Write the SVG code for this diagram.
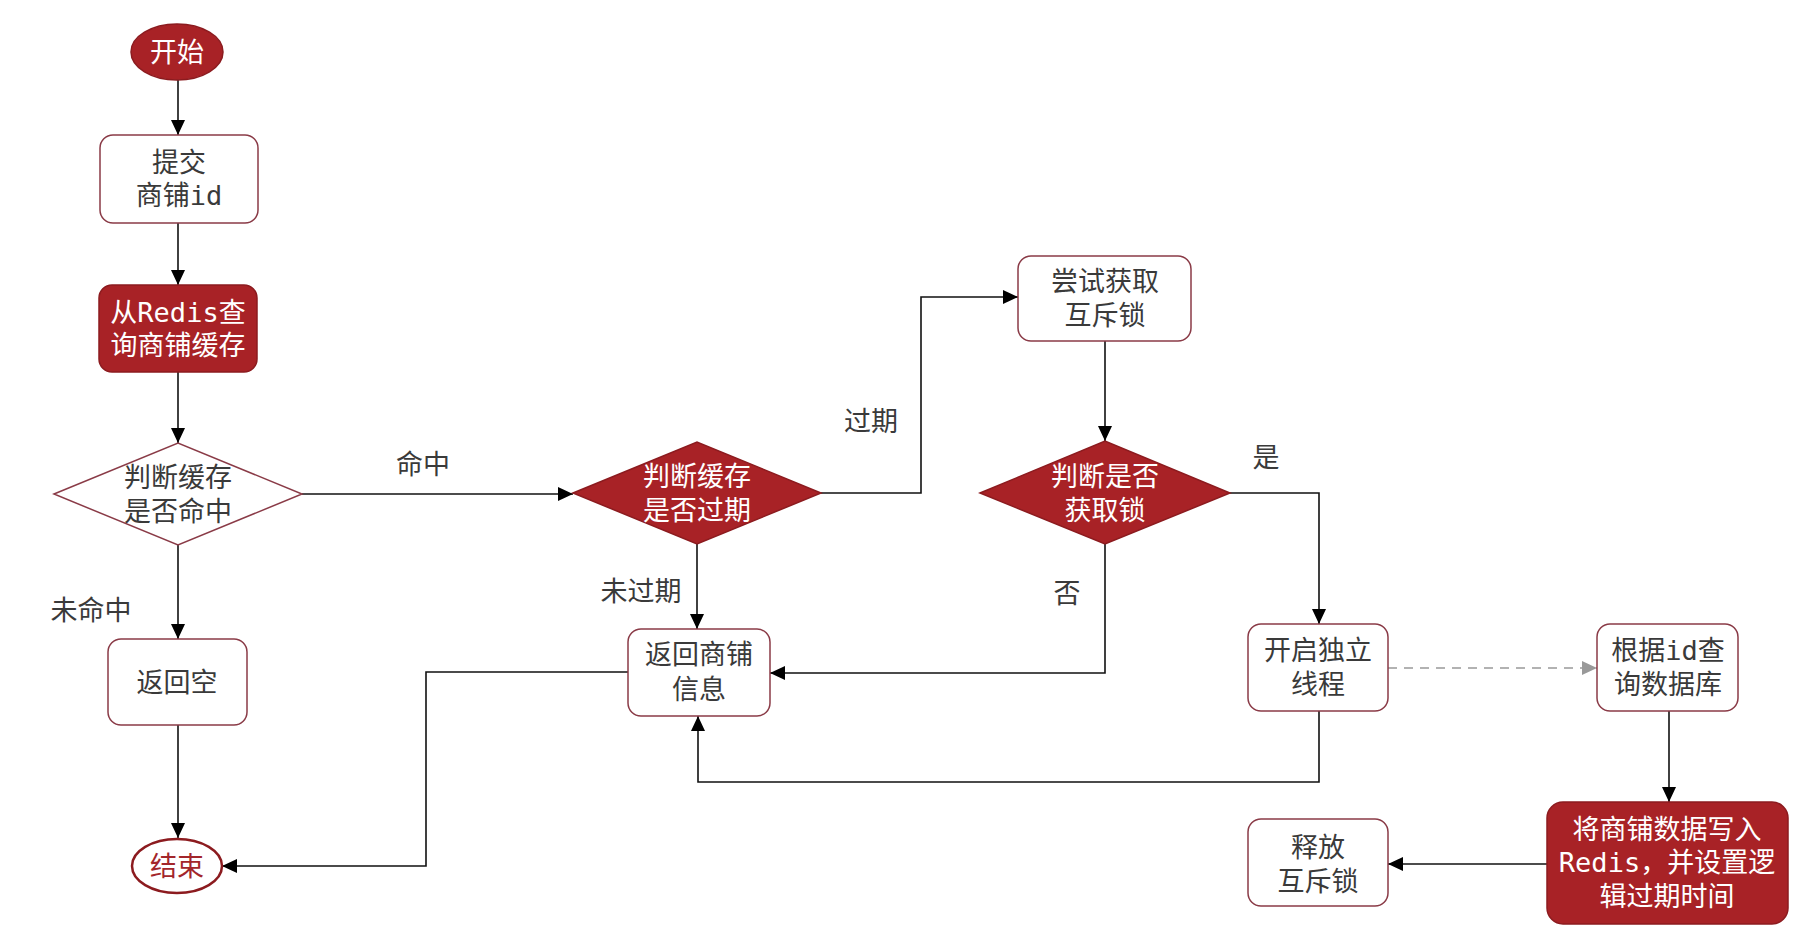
<svg xmlns="http://www.w3.org/2000/svg" width="1819" height="933" viewBox="0 0 1819 933">
<style>
.t{font-family:"DejaVu Sans Mono","Noto Sans CJK SC",monospace;font-size:27px;text-anchor:middle;dominant-baseline:central;fill:#3a3a3a}
.w{fill:#ffffff}
.r{fill:#a3262b}
.box{fill:#ffffff;stroke:#8a3b47;stroke-width:1.5}
.red{fill:#a82226;stroke:#8c1b1f;stroke-width:1.5}
.ln{fill:none;stroke:#111;stroke-width:1.6}
.dash{fill:none;stroke:#999;stroke-width:1.6;stroke-dasharray:9 7}
</style>
<defs>
<marker id="arr" markerUnits="userSpaceOnUse" markerWidth="16" markerHeight="14" refX="15" refY="7" orient="auto">
<path d="M0,0 L15,7 L0,14 Z" fill="#000"/>
</marker>
<marker id="arrg" markerUnits="userSpaceOnUse" markerWidth="16" markerHeight="14" refX="15" refY="7" orient="auto">
<path d="M0,0 L15,7 L0,14 Z" fill="#999"/>
</marker>
</defs>
<rect width="1819" height="933" fill="#ffffff"/>
<g id="connectors">
<path class="ln" marker-end="url(#arr)" d="M178,80 L178,135"/>
<path class="ln" marker-end="url(#arr)" d="M178,223 L178,285"/>
<path class="ln" marker-end="url(#arr)" d="M178,372 L178,443"/>
<path class="ln" marker-end="url(#arr)" d="M178,545 L178,639"/>
<path class="ln" marker-end="url(#arr)" d="M178,725 L178,838"/>
<path class="ln" marker-end="url(#arr)" d="M302,494 L573,494"/>
<path class="ln" marker-end="url(#arr)" d="M821,493 L921,493 L921,297 L1018,297"/>
<path class="ln" marker-end="url(#arr)" d="M697,544 L697,629"/>
<path class="ln" marker-end="url(#arr)" d="M1105,341 L1105,441"/>
<path class="ln" marker-end="url(#arr)" d="M1105,544 L1105,673 L770,673"/>
<path class="ln" marker-end="url(#arr)" d="M1230,493 L1319,493 L1319,624"/>
<path class="dash" marker-end="url(#arrg)" d="M1388,668 L1597,668"/>
<path class="ln" marker-end="url(#arr)" d="M1319,711 L1319,782 L698,782 L698,716"/>
<path class="ln" marker-end="url(#arr)" d="M1669,711 L1669,802"/>
<path class="ln" marker-end="url(#arr)" d="M1547,864 L1388,864"/>
<path class="ln" marker-end="url(#arr)" d="M628,672 L426,672 L426,866 L222,866"/>
<text class="t" x="423" y="464">命中</text>
<text class="t" x="91" y="610">未命中</text>
<text class="t" x="871" y="421">过期</text>
<text class="t" x="641" y="591">未过期</text>
<text class="t" x="1067" y="593">否</text>
<text class="t" x="1266" y="457">是</text>
</g>
<g id="start">
<ellipse cx="177" cy="52" rx="46" ry="28" class="red"/>
<text class="t w" x="177" y="52">开始</text>
</g>
<g id="submit">
<rect x="100" y="135" width="158" height="88" rx="13" class="box"/>
<text class="t" x="179" y="162">提交</text>
<text class="t" x="179" y="195">商铺id</text>
</g>
<g id="query-redis">
<rect x="99" y="285" width="158" height="87" rx="13" class="red"/>
<text class="t w" x="178" y="312">从Redis查</text>
<text class="t w" x="178" y="345">询商铺缓存</text>
</g>
<g id="hit-check">
<polygon points="54,494 178,443 302,494 178,545" class="box"/>
<text class="t" x="178" y="477">判断缓存</text>
<text class="t" x="178" y="511">是否命中</text>
</g>
<g id="return-null">
<rect x="108" y="639" width="139" height="86" rx="13" class="box"/>
<text class="t" x="177" y="682">返回空</text>
</g>
<g id="end">
<ellipse cx="177" cy="866" rx="45" ry="27" fill="#ffffff" stroke="#8c1b1f" stroke-width="2.5"/>
<text class="t r" x="177" y="866">结束</text>
</g>
<g id="expire-check">
<polygon points="573,493 697,442 821,493 697,544" class="red"/>
<text class="t w" x="697" y="476">判断缓存</text>
<text class="t w" x="697" y="510">是否过期</text>
</g>
<g id="return-shop">
<rect x="628" y="629" width="142" height="87" rx="13" class="box"/>
<text class="t" x="699" y="654">返回商铺</text>
<text class="t" x="699" y="689">信息</text>
</g>
<g id="try-lock">
<rect x="1018" y="256" width="173" height="85" rx="13" class="box"/>
<text class="t" x="1105" y="281">尝试获取</text>
<text class="t" x="1105" y="315">互斥锁</text>
</g>
<g id="lock-check">
<polygon points="980,493 1105,441 1230,493 1105,544" class="red"/>
<text class="t w" x="1105" y="476">判断是否</text>
<text class="t w" x="1105" y="510">获取锁</text>
</g>
<g id="new-thread">
<rect x="1248" y="624" width="140" height="87" rx="13" class="box"/>
<text class="t" x="1318" y="650">开启独立</text>
<text class="t" x="1318" y="684">线程</text>
</g>
<g id="query-db">
<rect x="1597" y="624" width="141" height="87" rx="13" class="box"/>
<text class="t" x="1668" y="650">根据id查</text>
<text class="t" x="1668" y="684">询数据库</text>
</g>
<g id="write-redis">
<rect x="1547" y="802" width="241" height="122" rx="16" class="red"/>
<text class="t w" x="1667" y="829">将商铺数据写入</text>
<text class="t w" x="1667" y="862">Redis，并设置逻</text>
<text class="t w" x="1667" y="896">辑过期时间</text>
</g>
<g id="release-lock">
<rect x="1248" y="819" width="140" height="87" rx="13" class="box"/>
<text class="t" x="1318" y="847">释放</text>
<text class="t" x="1318" y="881">互斥锁</text>
</g>
</svg>
